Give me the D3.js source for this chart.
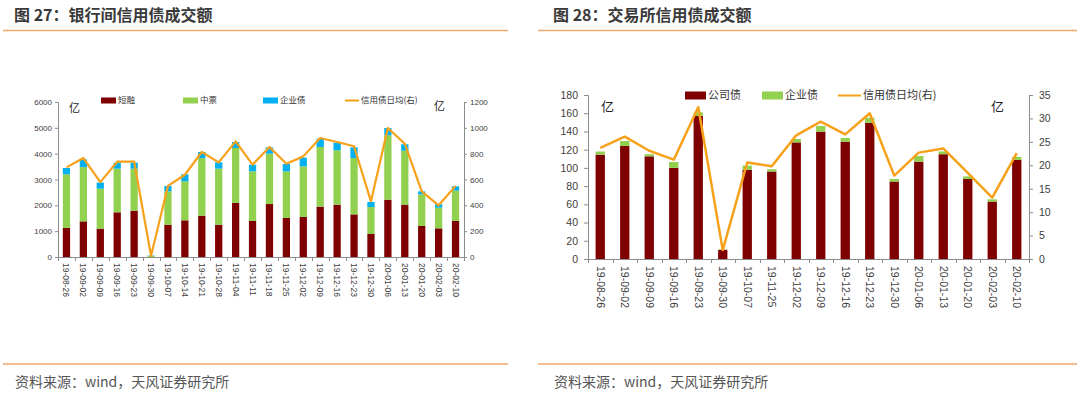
<!DOCTYPE html>
<html>
<head>
<meta charset="utf-8">
<script src="https://cdn.jsdelivr.net/npm/d3@7"></script>
<style>
  body { margin: 0; background: #fff; }
  svg { display: block; font-family: "Liberation Sans", Arial, "Noto Sans CJK SC", sans-serif; }
  .cjk { font-family: "Noto Sans CJK SC", sans-serif; }
</style>
</head>
<body>
<div id="vis"></div>
<script>
// 图27 银行间
var bankDates = ["19-08-26","19-09-02","19-09-09","19-09-16","19-09-23","19-09-30","19-10-07","19-10-14","19-10-21","19-10-28","19-11-04","19-11-11","19-11-18","19-11-25","19-12-02","19-12-09","19-12-16","19-12-23","19-12-30","20-01-06","20-01-13","20-01-20","20-02-03","20-02-10"];
var bankShort = [1130,1380,1100,1730,1795,0,1250,1420,1600,1250,2090,1395,2050,1510,1550,1950,2025,1650,890,2220,2025,1200,1110,1395];
var bankMid   = [2070,2100,1545,1690,1625,40,1290,1510,2230,2170,2130,1920,1950,1805,1960,2310,2105,2180,1045,2490,2090,1225,800,1175];
var bankEnt   = [245,300,235,230,230,15,210,270,235,245,230,260,245,285,335,320,295,415,195,280,245,115,130,165];
var bankDaily = [694,766,580,738,738,10,550,637,813,733,895,715,852,722,779,921,890,857,431,999,877,508,400,550];
var bankLeftTicks = [0,1000,2000,3000,4000,5000,6000];
var bankRightTicks = [0,200,400,600,800,1000,1200];

// 图28 交易所
var exDates = ["19-08-26","19-09-02","19-09-09","19-09-16","19-09-23","19-09-30","19-10-07","19-11-25","19-12-02","19-12-09","19-12-16","19-12-23","19-12-30","20-01-06","20-01-13","20-01-20","20-02-03","20-02-10"];
var exCorp  = [114.5,124,112.7,100,157,10,98,96,128,139.8,128.8,149.6,85,106.8,115,87.8,63,108.7];
var exEnt   = [3.5,5.5,2.3,6.5,4,0.5,4.5,2.5,3.7,6.2,4,5.4,2.8,6.2,3,2.9,2.5,3.3];
var exDaily = [23.7,26.1,23.1,21.2,32.4,1.9,20.6,19.8,26.4,29.3,26.6,31.1,17.8,22.7,23.6,18.4,13.1,22.6];
var exLeftTicks = [0,20,40,60,80,100,120,140,160,180];
var exRightTicks = [0,5,10,15,20,25,30,35];

var RED = "#7f0000", GREEN = "#92d050", BLUE = "#00b0f0", ORANGE = "#f7a11a";
var AXIS = "#8c8c8c", TXT = "#404040", RULE = "#eda66c";

var svg = d3.select("#vis").append("svg")
    .attr("width", 1080)
    .attr("height", 394);

////////// frame: titles, rules, source //////////

function frame(x0, x1, tx, title) {
  svg.append("text")
      .attr("class", "cjk")
      .attr("x", tx).attr("y", 21)
      .attr("font-size", 16).attr("font-weight", "bold")
      .attr("fill", "#3a3a3a")
      .text(title);
  svg.append("line")
      .attr("x1", x0).attr("x2", x1).attr("y1", 30.5).attr("y2", 30.5)
      .attr("stroke", RULE).attr("stroke-width", 1.5);
  svg.append("line")
      .attr("x1", x0).attr("x2", x1).attr("y1", 364).attr("y2", 364)
      .attr("stroke", RULE).attr("stroke-width", 1.5);
  svg.append("text")
      .attr("class", "cjk")
      .attr("x", tx + 1).attr("y", 387)
      .attr("font-size", 14)
      .attr("fill", "#555")
      .text("资料来源：wind，天风证券研究所");
}

frame(3, 508, 14, "图 27：银行间信用债成交额");
frame(538, 1077, 553, "图 28：交易所信用债成交额");

////////// chart builder //////////

function drawChart(cfg) {
  var g = svg.append("g");

  var x = d3.scaleBand()
      .domain(cfg.dates)
      .range([cfg.left, cfg.right])
      .paddingInner(cfg.pad).paddingOuter(cfg.pad / 2);

  var yL = d3.scaleLinear().domain(d3.extent(cfg.leftTicks)).range([cfg.bottom, cfg.top]);
  var yR = d3.scaleLinear().domain(d3.extent(cfg.rightTicks)).range([cfg.bottom, cfg.top]);

  // stacked bars
  var rows = cfg.dates.map(function(d, i) {
    var r = { date: d };
    cfg.series.forEach(function(s) { r[s.key] = s.values[i]; });
    return r;
  });
  var stack = d3.stack().keys(cfg.series.map(function(s) { return s.key; }))(rows);

  g.selectAll(".layer")
      .data(stack)
      .enter().append("g")
      .attr("fill", function(d, i) { return cfg.series[i].color; })
    .selectAll("rect")
      .data(function(d) { return d; })
      .enter().append("rect")
      .attr("x", function(d) { return x(d.data.date); })
      .attr("width", x.bandwidth())
      .attr("y", function(d) { return yL(d[1]); })
      .attr("height", function(d) { return Math.max(0, yL(d[0]) - yL(d[1])); });

  // daily average line (right axis)
  var line = d3.line()
      .x(function(d, i) { return x(cfg.dates[i]) + x.bandwidth() / 2; })
      .y(function(d) { return yR(d); });

  g.append("path")
      .datum(cfg.daily)
      .attr("fill", "none")
      .attr("stroke", ORANGE)
      .attr("stroke-width", cfg.lineW)
      .attr("stroke-linejoin", "round")
      .attr("d", line);

  // left + right axes
  var axL = g.append("g")
      .attr("transform", "translate(" + cfg.left + ",0)")
      .call(d3.axisLeft(yL).tickValues(cfg.leftTicks).tickFormat(d3.format("d"))
        .tickSize(cfg.tick).tickPadding(cfg.tickPad));
  var axR = g.append("g")
      .attr("transform", "translate(" + cfg.right + ",0)")
      .call(d3.axisRight(yR).tickValues(cfg.rightTicks).tickFormat(d3.format("d"))
        .tickSize(cfg.tick).tickPadding(cfg.tickPad));

  [axL, axR].forEach(function(a) {
    a.select(".domain").attr("stroke", AXIS);
    a.selectAll(".tick line").attr("stroke", AXIS);
    a.selectAll("text")
        .attr("fill", TXT)
        .attr("font-size", cfg.fs)
        .attr("font-family", "'Liberation Sans', Arial, sans-serif");
  });

  // x axis: ticks at category boundaries
  g.append("line")
      .attr("x1", cfg.left).attr("x2", cfg.right)
      .attr("y1", cfg.bottom + 0.5).attr("y2", cfg.bottom + 0.5)
      .attr("stroke", AXIS);

  var bounds = cfg.dates.map(function(d) { return x(d) - x.step() * x.paddingInner() / 2; });
  bounds.push(cfg.right);
  g.selectAll(".xtick")
      .data(bounds)
      .enter().append("line")
      .attr("x1", function(d) { return Math.round(d) + 0.5; })
      .attr("x2", function(d) { return Math.round(d) + 0.5; })
      .attr("y1", cfg.bottom).attr("y2", cfg.bottom + 4)
      .attr("stroke", AXIS);

  g.selectAll(".xlab")
      .data(cfg.dates)
      .enter().append("text")
      .attr("transform", function(d) {
        return "translate(" + (x(d) + x.bandwidth() / 2) + "," + cfg.labelY + ") rotate(90)";
      })
      .attr("dy", "0.35em")
      .attr("font-size", cfg.xfs)
      .attr("fill", TXT)
      .text(function(d) { return d; });

  // unit labels
  g.append("text").attr("class", "cjk")
      .attr("x", cfg.unitL[0]).attr("y", cfg.unitL[1])
      .attr("font-size", cfg.unitFs).attr("fill", "#222").text("亿");
  g.append("text").attr("class", "cjk")
      .attr("x", cfg.unitR[0]).attr("y", cfg.unitR[1])
      .attr("font-size", cfg.unitFs).attr("fill", "#222").text("亿");

  // legend
  cfg.legend.forEach(function(item) {
    if (item.type == "line") {
      g.append("line")
          .attr("x1", item.x).attr("x2", item.x + item.w)
          .attr("y1", cfg.legendY).attr("y2", cfg.legendY)
          .attr("stroke", item.color).attr("stroke-width", 2);
    } else {
      g.append("rect")
          .attr("x", item.x).attr("y", cfg.legendY - item.h / 2)
          .attr("width", item.w).attr("height", item.h)
          .attr("fill", item.color);
    }
    g.append("text").attr("class", "cjk")
        .attr("x", item.x + item.w + 2).attr("y", cfg.legendY)
        .attr("dy", "0.35em")
        .attr("font-size", cfg.legendFs)
        .attr("fill", "#333")
        .text(item.label);
  });
}

drawChart({
  dates: bankDates,
  series: [
    { key: "short", values: bankShort, color: RED },
    { key: "mid", values: bankMid, color: GREEN },
    { key: "ent", values: bankEnt, color: BLUE }
  ],
  daily: bankDaily,
  leftTicks: bankLeftTicks, rightTicks: bankRightTicks,
  left: 58, right: 464, top: 102, bottom: 257,
  pad: 0.57, lineW: 2.2, tick: 3, tickPad: 3, fs: 8, xfs: 8.5,
  labelY: 263,
  unitL: [69, 112], unitR: [434, 110], unitFs: 11,
  legendY: 100.5, legendFs: 8.5,
  legend: [
    { x: 101, w: 15, h: 6, color: RED, label: "短融" },
    { x: 183, w: 15, h: 6, color: GREEN, label: "中票" },
    { x: 263, w: 15, h: 6, color: BLUE, label: "企业债" },
    { x: 345, w: 14, color: ORANGE, label: "信用债日均(右)", type: "line" }
  ]
});

drawChart({
  dates: exDates,
  series: [
    { key: "corp", values: exCorp, color: RED },
    { key: "ent", values: exEnt, color: GREEN }
  ],
  daily: exDaily,
  leftTicks: exLeftTicks, rightTicks: exRightTicks,
  left: 588, right: 1029, top: 95, bottom: 259,
  pad: 0.62, lineW: 2.5, tick: 4, tickPad: 6, fs: 10.5, xfs: 10.5,
  labelY: 266,
  unitL: [601, 111], unitR: [991, 111], unitFs: 13,
  legendY: 95.5, legendFs: 11,
  legend: [
    { x: 685, w: 21, h: 8, color: RED, label: "公司债" },
    { x: 762, w: 21, h: 8, color: GREEN, label: "企业债" },
    { x: 838, w: 23, color: ORANGE, label: "信用债日均(右)", type: "line" }
  ]
});
</script>
</body>
</html>
